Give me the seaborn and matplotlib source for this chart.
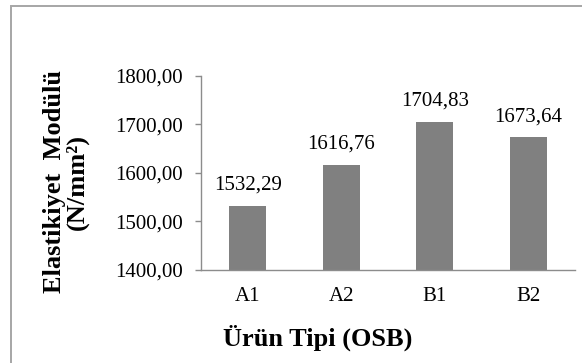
import matplotlib
matplotlib.use("Agg")
import matplotlib.pyplot as plt
from matplotlib.patches import Rectangle
from matplotlib.ticker import FuncFormatter
import seaborn as sns
import pandas as pd

categories = ["A1", "A2", "B1", "B2"]
values = [1532.29, 1616.76, 1704.83, 1673.64]
y_ticks = [1400, 1500, 1600, 1700, 1800]

sns.set_theme(style="white")
plt.rcParams["font.family"] = ["Liberation Serif", "DejaVu Serif"]

df = pd.DataFrame({"Ürün": categories, "Değer": values})


def tr_num(v):
    return f"{v:.2f}".replace(".", ",")


fig = plt.figure(figsize=(5.82, 3.63), dpi=100)
ax = fig.add_axes([201 / 582, 1 - 270 / 363, 374 / 582, (270 - 75.8) / 363])

sns.barplot(data=df, x="Ürün", y="Değer", color="#808080", saturation=1,
            width=0.4, ax=ax, edgecolor="none")

ax.set_ylim(1400, 1800)
ax.set_xlim(-0.5, 3.5)
ax.set_yticks(y_ticks)
ax.yaxis.set_major_formatter(FuncFormatter(lambda v, p: tr_num(v)))

spine_col = "#8c8c8c"
for side in ("top", "right"):
    ax.spines[side].set_visible(False)
for side in ("left", "bottom"):
    ax.spines[side].set_color(spine_col)
    ax.spines[side].set_linewidth(1.0)

ax.tick_params(axis="y", which="major", left=True, length=4.3, width=1.0,
               color=spine_col, pad=9, labelsize=15, labelcolor="black")
ax.tick_params(axis="x", which="major", bottom=False, length=0, pad=12,
               labelsize=15, labelcolor="black")

ax.set_xlabel("")
ax.set_ylabel("")

for i, v in enumerate(values):
    ax.annotate(tr_num(v), xy=(i, v), xytext=(0, 11.5), textcoords="offset points",
                ha="center", va="baseline", fontsize=15, color="black")

fig.text(318 / 582, 1 - 346 / 363, "Ürün Tipi (OSB)", ha="center", va="baseline",
         fontsize=19, fontweight="bold", color="black")
fig.text(66 / 582, 1 - 181.5 / 363, "Elastikiyet  Modülü\n(N/mm²)", ha="center",
         va="center", rotation=90, fontsize=19, fontweight="bold", color="black",
         linespacing=1.0, multialignment="center")

# outer chart frame, running off the right and bottom edges
fig.add_artist(Rectangle((11 / 582, -0.5), 2.0, 0.5 + 1 - 5.5 / 363,
                         transform=fig.transFigure, fill=False,
                         edgecolor="#a6a6a6", linewidth=1.4, clip_on=False))

fig.savefig("out.png", dpi=100)
